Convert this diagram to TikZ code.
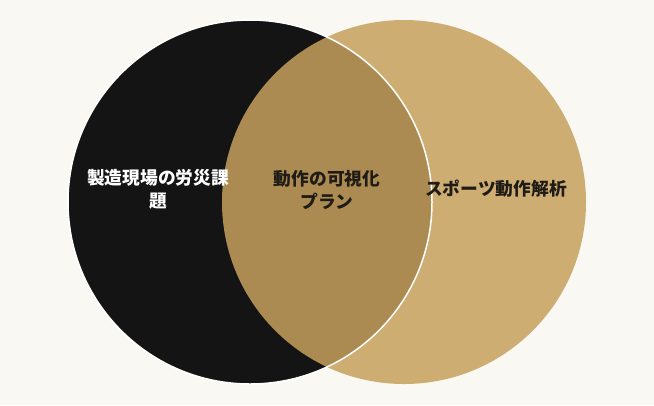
\documentclass[tikz,border=0pt]{standalone}
\usepackage{fontspec}
\newfontfamily\cjk{Noto Sans CJK JP}
\usepackage{tikz}
\definecolor{cream}{HTML}{F9F8F3}
\definecolor{ink}{HTML}{141414}
\definecolor{gold}{HTML}{C6A05C}
\definecolor{darktext}{HTML}{1F1B16}

\begin{document}
\begin{tikzpicture}[x=1bp,y=-1bp,
	label/.style={align=center,font=\cjk\bfseries\fontsize{17.8pt}{23pt}\selectfont,inner sep=0pt}]
			\fill[cream] (0,0) rectangle (654,405);
			\useasboundingbox (0,0) rectangle (654,405);
			\coordinate (c-1) at (250,202);
			\coordinate (c-2) at (404,202);
			\fill[ink] (c-1) circle[radius=182bp];
			\fill[gold,fill opacity=0.85] (c-2) circle[radius=182bp];
			\draw[white,line width=1.5bp] (c-1) circle[radius=182bp];
			\node[label,text=white] (left) at (158,189) {製造現場の労災課\\題};
			\node[label,text=darktext] (mid) at (327,190) {動作の可視化\\プラン};
			\node[label,text=darktext] (right) at (496,189) {スポーツ動作解析};
		\end{tikzpicture}
\end{document}
